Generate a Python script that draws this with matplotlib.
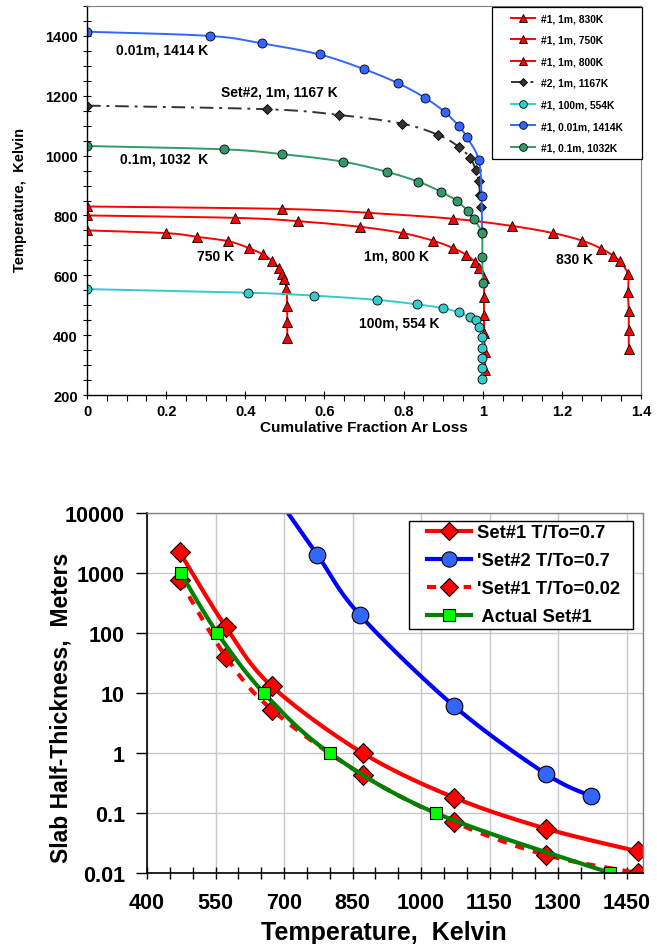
import numpy as np
import matplotlib
matplotlib.use("Agg")
import matplotlib.pyplot as plt
from matplotlib.lines import Line2D
from matplotlib.legend_handler import HandlerLine2D
from matplotlib.ticker import MultipleLocator, FixedLocator, FixedFormatter, FuncFormatter

plt.rcParams['font.family'] = ['Liberation Sans', 'DejaVu Sans']
plt.rcParams['font.weight'] = 'bold'

# ---------------- Top chart data (Cumulative fraction Ar loss vs Temperature) ----------------
r830_x = [0, 0.492, 0.709, 0.925, 1.074, 1.178, 1.251, 1.300, 1.330, 1.346, 1.367, 1.367, 1.369, 1.369, 1.369]
r830_T = [830, 822, 809, 789, 765, 741, 716, 689, 665, 647, 604, 543, 480, 417, 354]

r750_x = [0, 0.199, 0.277, 0.357, 0.409, 0.444, 0.468, 0.484, 0.492, 0.499, 0.504, 0.506, 0.506, 0.506]
r750_T = [750, 741, 729, 714, 691, 670, 648, 625, 604, 588, 555, 499, 445, 390]

r800_x = [0, 0.375, 0.533, 0.691, 0.798, 0.874, 0.925, 0.959, 0.980, 0.991, 1.003, 1.003, 1.003, 1.004, 1.005, 1.006]
r800_T = [800, 792, 781, 762, 741, 716, 691, 668, 645, 624, 590, 528, 467, 406, 345, 284]

blk_x = [0, 0.456, 0.636, 0.796, 0.888, 0.939, 0.969, 0.982, 0.990, 0.993, 0.996]
blk_T = [1167, 1155, 1136, 1107, 1069, 1030, 991, 952, 914, 870, 827]

cyan_x = [0, 0.407, 0.574, 0.732, 0.834, 0.900, 0.940, 0.967, 0.982, 0.990, 0.998, 0.999, 0.999, 0.999, 0.999]
cyan_T = [554, 542, 532, 518, 503, 490, 476, 460, 450, 428, 393, 357, 322, 289, 253]

blue_x = [0, 0.31, 0.442, 0.588, 0.700, 0.786, 0.853, 0.904, 0.940, 0.960, 0.990, 0.997, 0.998]
blue_T = [1414, 1400, 1375, 1338, 1289, 1242, 1194, 1146, 1098, 1061, 986, 866, 745]

green_x = [0, 0.346, 0.492, 0.646, 0.757, 0.837, 0.895, 0.935, 0.962, 0.977, 0.997, 0.999, 1.0]
green_T = [1032, 1021, 1005, 980, 946, 913, 879, 848, 815, 788, 742, 660, 573]

top_labels = ["#1, 1m, 830K", "#1, 1m, 750K", "#1, 1m, 800K", "#2, 1m, 1167K",
              "#1, 100m, 554K", "#1, 0.01m, 1414K", "#1, 0.1m, 1032K"]

# ---------------- Bottom chart data (Slab half-thickness vs Temperature) ----------------
set1_T = [472, 573, 673, 872, 1073, 1273, 1474]
set1_h = [2200, 125, 13, 1.0, 0.18, 0.055, 0.023]

set2_T = [672, 773, 866, 1073, 1273, 1373]
set2_h = [25000, 2000, 200, 6.0, 0.45, 0.19]

set1b_T = [472, 573, 673, 872, 1073, 1273, 1474]
set1b_h = [750, 40, 5.3, 0.43, 0.07, 0.02, 0.01]

actual_T = [474, 554, 656, 800, 1032, 1414]
actual_h = [1000, 100, 10, 1, 0.1, 0.01]

bottom_labels = ["Set#1 T/To=0.7", "'Set#2 T/To=0.7", "'Set#1 T/To=0.02", " Actual Set#1"]
ytick_vals = [0.01, 0.1, 1, 10, 100, 1000, 10000]
ytick_text = ["0.01", "0.1", "1", "10", "100", "1000", "10000"]


def smooth(ax, x, y, logy=False, n=24):
    """Excel-like smoothed line (Catmull-Rom Bezier) computed in axes-pixel space."""
    x = np.asarray(x, float)
    y = np.asarray(y, float)
    if logy:
        y = np.log10(y)
    x0, x1 = ax.get_xlim()
    y0, y1 = ax.get_ylim()
    if logy:
        y0, y1 = np.log10(y0), np.log10(y1)
    bb = ax.get_window_extent()
    W, H = bb.width, bb.height
    px = (x - x0) / (x1 - x0) * W
    py = (y - y0) / (y1 - y0) * H
    P = np.column_stack([px, py])
    Pp = np.vstack([P[0], P, P[-1]])
    out = [P[0]]
    t = np.linspace(0, 1, n)[1:]
    for i in range(1, len(Pp) - 2):
        p0, p1, p2, p3 = Pp[i - 1], Pp[i], Pp[i + 1], Pp[i + 2]
        c1 = p1 + (p2 - p0) / 6.0
        c2 = p2 - (p3 - p1) / 6.0
        tt = t[:, None]
        seg = ((1 - tt) ** 3) * p1 + 3 * ((1 - tt) ** 2) * tt * c1 + 3 * (1 - tt) * tt ** 2 * c2 + tt ** 3 * p2
        out.extend(seg)
    out = np.array(out)
    xs = out[:, 0] / W * (x1 - x0) + x0
    ys = out[:, 1] / H * (y1 - y0) + y0
    if logy:
        ys = 10 ** ys
    return xs, ys


fig = plt.figure(figsize=(6.57, 9.45), dpi=100)

# ======================= TOP CHART =======================
ax1 = fig.add_axes([87 / 657, 1 - 396 / 945, (641 - 87) / 657, (396 - 7) / 945])
ax1.set_xlim(0, 1.4)
ax1.set_ylim(200, 1500)

top_series = [
    (r830_x, r830_T, dict(color='#FF0000', ls='-', marker='^', mfc='#FF0000', ms=6.5)),
    (r750_x, r750_T, dict(color='#FF0000', ls='-', marker='^', mfc='#FF0000', ms=6.5)),
    (r800_x, r800_T, dict(color='#FF0000', ls='-', marker='^', mfc='#FF0000', ms=6.5)),
    (blk_x, blk_T, dict(color='#333333', ls=(0, (7, 3, 1.5, 3)), marker='D', mfc='#333333', ms=4.8)),
    (cyan_x, cyan_T, dict(color='#33CCCC', ls='-', marker='o', mfc='#33CCCC', ms=6.5)),
    (blue_x, blue_T, dict(color='#3366FF', ls='-', marker='o', mfc='#3366FF', ms=6.5)),
    (green_x, green_T, dict(color='#339966', ls='-', marker='o', mfc='#339966', ms=6.5)),
]
handles = []
for (xs, ys, st), lab in zip(top_series, top_labels):
    sx, sy = smooth(ax1, xs, ys)
    ax1.plot(sx, sy, color=st['color'], ls=st['ls'], lw=1.4)
    ax1.plot(xs, ys, ls='none', marker=st['marker'], mfc=st['mfc'], mec='black',
             mew=0.6, ms=st['ms'])
    h, = ax1.plot([], [], color=st['color'], ls=st['ls'], lw=1.4, marker=st['marker'],
                  mfc=st['mfc'], mec='black', mew=0.6, ms=st['ms'] * 0.85)
    handles.append(h)

leg1 = ax1.legend(handles, top_labels, loc='upper left',
                  bbox_to_anchor=(0.7316, 0.9967 - 0.5, 0.2708, 0.5), mode='expand',
                  fontsize=7.4, frameon=True, fancybox=False, framealpha=1,
                  edgecolor='black', labelspacing=1.12, handlelength=3.56,
                  borderpad=0.6, handletextpad=0.58, borderaxespad=0,
                  handler_map={Line2D: HandlerLine2D(xpad=1.22)})
leg1.get_frame().set_linewidth(0.9)
for t in leg1.get_texts():
    t.set_fontweight('bold')

tfs = 10
ax1.text(0.189, 1353, "0.01m, 1414 K", ha='center', va='center', fontsize=tfs, fontweight='bold')
ax1.text(0.487, 1214, "Set#2, 1m, 1167 K", ha='center', va='center', fontsize=tfs, fontweight='bold')
ax1.text(0.195, 991, "0.1m, 1032  K", ha='center', va='center', fontsize=tfs, fontweight='bold')
ax1.text(0.324, 665, "750 K", ha='center', va='center', fontsize=tfs, fontweight='bold')
ax1.text(0.783, 665, "1m, 800 K", ha='center', va='center', fontsize=tfs, fontweight='bold')
ax1.text(1.232, 654, "830 K", ha='center', va='center', fontsize=tfs, fontweight='bold')
ax1.text(0.790, 443, "100m, 554 K", ha='center', va='center', fontsize=tfs, fontweight='bold')

ax1.xaxis.set_major_locator(MultipleLocator(0.2))
ax1.xaxis.set_minor_locator(MultipleLocator(0.05))
ax1.yaxis.set_major_locator(MultipleLocator(200))
ax1.yaxis.set_minor_locator(MultipleLocator(50))
ax1.xaxis.set_major_formatter(FuncFormatter(lambda v, p: f"{v:g}"))
ax1.set_yticks([200, 400, 600, 800, 1000, 1200, 1400])
ax1.tick_params(which='both', direction='inout', length=6, width=0.8, labelsize=10.5)
ax1.tick_params(axis='x', which='minor', direction='out', length=4)
for lab in ax1.get_xticklabels() + ax1.get_yticklabels():
    lab.set_fontweight('bold')
for s in ['top', 'right']:
    ax1.spines[s].set_color('#808080')
    ax1.spines[s].set_linewidth(0.8)
for s in ['left', 'bottom']:
    ax1.spines[s].set_linewidth(1.0)

fig.text(20 / 657, 1 - 200 / 945, "Temperature,  Kelvin", rotation=90, ha='center', va='center',
         fontsize=10.5, fontweight='bold')
fig.text(364 / 657, 1 - 428 / 945, "Cumulative Fraction Ar Loss", ha='center', va='center',
         fontsize=11, fontweight='bold')

# ======================= BOTTOM CHART =======================
ax2 = fig.add_axes([147 / 657, 1 - 874 / 945, (643 - 147) / 657, (874 - 514) / 945])
ax2.set_yscale('log')
ax2.set_xlim(400, 1486)
ax2.set_ylim(0.01, 10000)

ax2.grid(True, which='major', color='#C8C8C8', lw=1.0)
ax2.set_axisbelow(True)

sx, sy = smooth(ax2, set1_T, set1_h, logy=True)
ax2.plot(sx, sy, color='#FF0000', lw=3, solid_capstyle='butt')
ax2.plot(set1_T, set1_h, ls='none', marker='D', mfc='#FF0000', mec='black', mew=0.8, ms=10)

sx, sy = smooth(ax2, set2_T, set2_h, logy=True)
ax2.plot(sx, sy, color='#0000FF', lw=3)
ax2.plot(set2_T, set2_h, ls='none', marker='o', mfc='#3366FF', mec='black', mew=0.8, ms=12)

sx, sy = smooth(ax2, set1b_T, set1b_h, logy=True)
ax2.plot(sx, sy, color='#FF0000', lw=3, ls=(0, (2.2, 2.2)))
ax2.plot(set1b_T, set1b_h, ls='none', marker='D', mfc='#FF0000', mec='black', mew=0.8, ms=10)

sx, sy = smooth(ax2, actual_T, actual_h, logy=True)
ax2.plot(sx, sy, color='#008000', lw=3)
ax2.plot(actual_T, actual_h, ls='none', marker='s', mfc='#00FF00', mec='black', mew=0.8, ms=8)

h1, = ax2.plot([], [], color='#FF0000', lw=3, marker='D', mfc='#FF0000', mec='black', mew=0.8, ms=9)
h2, = ax2.plot([], [], color='#0000FF', lw=3, marker='o', mfc='#3366FF', mec='black', mew=0.8, ms=11)
h3, = ax2.plot([], [], color='#FF0000', lw=3, ls=(0, (2.2, 2.2)), marker='D', mfc='#FF0000', mec='black', mew=0.8, ms=9)
h4, = ax2.plot([], [], color='#008000', lw=3, marker='s', mfc='#00FF00', mec='black', mew=0.8, ms=8)
leg2 = ax2.legend([h1, h2, h3, h4], bottom_labels, loc='upper left',
                  bbox_to_anchor=(0.5276, 0.9786 - 0.5, 0.4528, 0.5), mode='expand',
                  fontsize=13.2, frameon=True, fancybox=False, framealpha=1, edgecolor='black',
                  labelspacing=0.6, handlelength=3.22, borderpad=0.2, handletextpad=0.33,
                  borderaxespad=0, handler_map={Line2D: HandlerLine2D(xpad=0.8)})
leg2.get_frame().set_linewidth(1.0)
for t in leg2.get_texts():
    t.set_fontweight('bold')

ax2.xaxis.set_major_locator(FixedLocator([400, 550, 700, 850, 1000, 1150, 1300, 1450]))
ax2.xaxis.set_minor_locator(MultipleLocator(50))
ax2.yaxis.set_major_locator(FixedLocator(ytick_vals))
ax2.yaxis.set_major_formatter(FixedFormatter(ytick_text))
ax2.yaxis.set_minor_locator(FixedLocator([]))
ax2.tick_params(axis='x', which='both', direction='inout', length=8, width=1.0, labelsize=15.5, pad=10)
ax2.tick_params(axis='y', which='major', direction='out', length=8, width=1.0, labelsize=15.5, pad=8)
for lab in ax2.get_xticklabels() + ax2.get_yticklabels():
    lab.set_fontweight('bold')
for s in ['top', 'right']:
    ax2.spines[s].set_color('#808080')
    ax2.spines[s].set_linewidth(1.0)
for s in ['left', 'bottom']:
    ax2.spines[s].set_linewidth(1.2)

fig.text(384 / 657, 1 - 933 / 945, "Temperature,  Kelvin", ha='center', va='center',
         fontsize=18, fontweight='bold')
fig.text(61 / 657, 1 - 708 / 945, "Slab Half-Thickness,  Meters", rotation=90, ha='center',
         va='center', fontsize=16.5, fontweight='bold')

fig.savefig("out.png", dpi=100)
